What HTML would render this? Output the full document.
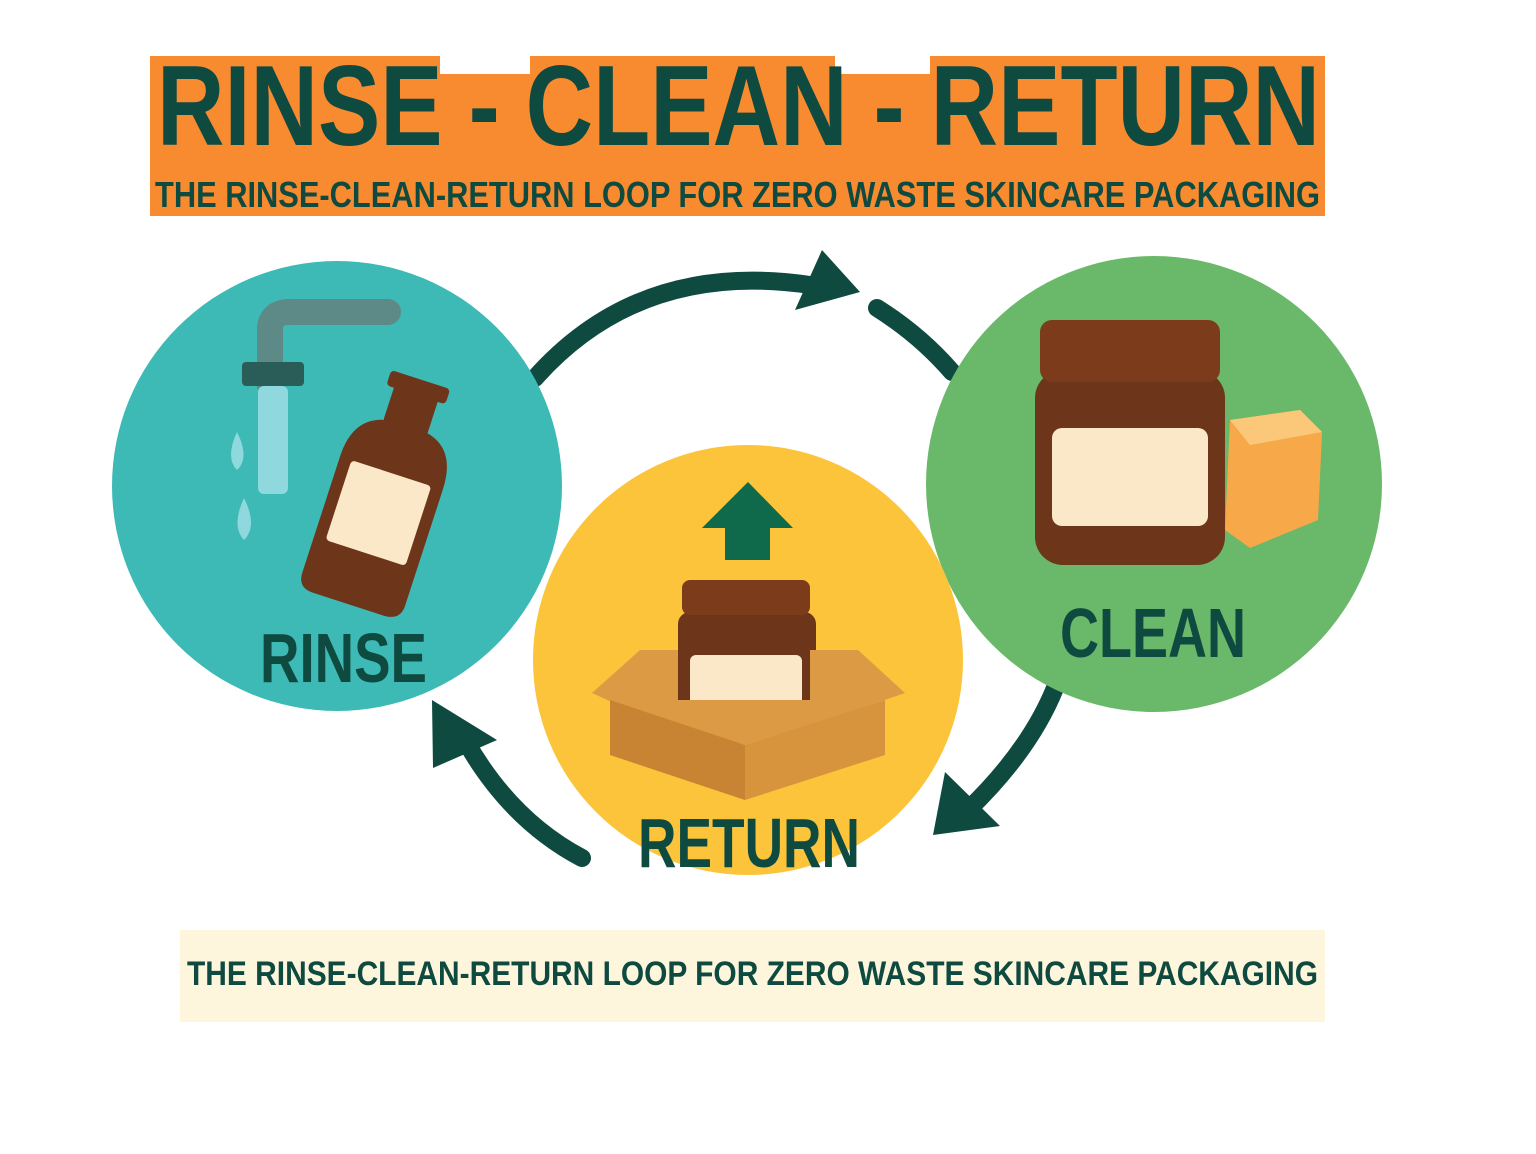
<!DOCTYPE html>
<html><head><meta charset="utf-8"><style>
html,body{margin:0;padding:0;background:#fff;width:1536px;height:1154px;overflow:hidden}
svg{display:block}
text{font-family:"Liberation Sans",sans-serif;font-weight:bold;fill:#0f4a40}
</style></head><body>
<svg width="1536" height="1154" viewBox="0 0 1536 1154" xmlns="http://www.w3.org/2000/svg">
<!-- header banner -->
<rect x="150" y="56" width="1175" height="160" fill="#f88a30"/>
<rect x="440" y="52" width="90" height="22" fill="#fff"/>
<rect x="835" y="52" width="95" height="22" fill="#fff"/>
<text x="157" y="145" font-size="114" textLength="1163" lengthAdjust="spacingAndGlyphs">RINSE - CLEAN - RETURN</text>
<text x="155" y="207" font-size="36" textLength="1165" lengthAdjust="spacingAndGlyphs">THE RINSE-CLEAN-RETURN LOOP FOR ZERO WASTE SKINCARE PACKAGING</text>
<!-- bottom banner -->
<rect x="180" y="930" width="1145" height="92" fill="#fdf5dc"/>
<text x="187" y="985" font-size="34" textLength="1131" lengthAdjust="spacingAndGlyphs">THE RINSE-CLEAN-RETURN LOOP FOR ZERO WASTE SKINCARE PACKAGING</text>
<!-- arrows -->
<g fill="none" stroke="#0f4a40" stroke-width="18" stroke-linecap="round">
<path d="M535 378 Q640 260 810 285"/>
<path d="M877 308 Q920 335 952 372"/>
<path d="M1055 688 Q1030 750 968 810"/>
<path d="M582 858 Q510 820 465 740"/>
</g>
<g fill="#0f4a40">
<polygon points="795,310 822,250 860,292"/>
<polygon points="933,835 945,772 1000,826"/>
<polygon points="432,700 433,768 497,740"/>
</g>
<!-- circles -->
<circle cx="337" cy="486" r="225" fill="#3dbab5"/>
<circle cx="1154" cy="484" r="228" fill="#6ab96a"/>
<circle cx="748" cy="660" r="215" fill="#fbc43a"/>
<!-- rinse icons -->
<path d="M270 385 V330 Q270 312 290 312 H388" fill="none" stroke="#5d8a86" stroke-width="26" stroke-linecap="round"/>
<rect x="242" y="362" width="62" height="24" rx="4" fill="#2a5c58"/>
<rect x="258" y="386" width="30" height="108" rx="6" fill="#8fd9de"/>
<path d="M237 432 Q225 458 237 470 Q250 458 237 432Z" fill="#8fd9de"/>
<path d="M244 498 Q231 526 244 540 Q258 526 244 498Z" fill="#8fd9de"/>
<g transform="rotate(18 378 495)">
<rect x="360" y="378" width="46" height="46" rx="4" fill="#6d3519"/>
<rect x="352" y="372" width="62" height="16" rx="4" fill="#6d3519"/>
<path d="M330 470 Q330 424 370 420 H400 Q438 424 438 470 V592 Q438 608 420 608 H346 Q330 608 330 592Z" fill="#6d3519"/>
<rect x="342" y="470" width="84" height="84" rx="4" fill="#fbe8c8"/>
</g>
<text x="260" y="682" font-size="70" textLength="167" lengthAdjust="spacingAndGlyphs">RINSE</text>
<!-- clean icons -->
<path d="M1230 420 L1300 410 L1322 432 L1318 520 L1250 548 L1225 530Z" fill="#f7a94a"/>
<path d="M1230 420 L1300 410 L1322 432 L1250 445Z" fill="#fbc879"/>
<rect x="1035" y="370" width="190" height="195" rx="28" fill="#6d3519"/>
<rect x="1040" y="320" width="180" height="62" rx="12" fill="#7c3c1c"/>
<rect x="1052" y="428" width="156" height="98" rx="10" fill="#fbe8c8"/>
<text x="1060" y="657" font-size="70" textLength="186" lengthAdjust="spacingAndGlyphs">CLEAN</text>
<!-- return icons -->
<polygon points="748,482 702,528 725,528 725,560 770,560 770,528 793,528" fill="#0f6a4c"/>
<rect x="678" y="612" width="138" height="100" rx="12" fill="#6d3519"/>
<rect x="682" y="580" width="128" height="35" rx="8" fill="#7c3c1c"/>
<rect x="690" y="655" width="112" height="50" rx="6" fill="#fbe8c8"/>
<polygon points="592,693 640,650 678,650 678,700 810,700 810,650 858,650 905,693 855,710 745,745 640,715" fill="#dd9a45"/>
<polygon points="610,700 745,745 745,800 610,755" fill="#c98433"/>
<polygon points="745,745 885,700 885,755 745,800" fill="#d8933d"/>
<text x="638" y="867" font-size="70" textLength="222" lengthAdjust="spacingAndGlyphs">RETURN</text>
</svg>
</body></html>
